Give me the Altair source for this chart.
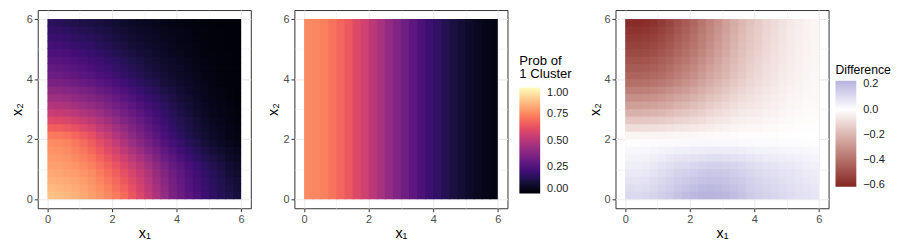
import altair as alt
import pandas as pd

# ---------------- data ----------------
# x1 / x2 cell centres (cells 0.25 wide) covering 0..6
GRID = [0.125, 0.375, 0.625, 0.875, 1.125, 1.375, 1.625, 1.875,
        2.125, 2.375, 2.625, 2.875, 3.125, 3.375, 3.625, 3.875,
        4.125, 4.375, 4.625, 4.875, 5.125, 5.375, 5.625, 5.875]
HALF = 0.125
X_MAX = 6.0
SEAM = 0.025  # tiny overlap between neighbouring cells so no hairline seams show

# panel 2: probability (%) of 1 cluster as a function of x1 only
P2 = [75.5, 75, 73.5, 71, 68, 64.5, 60, 56,
      51.5, 46.5, 41.5, 37, 32.5, 28, 24, 20.5,
      17.5, 14.5, 12, 9.5, 7.5, 6, 4.5, 3.5]

# panel 1: probability (%) of 1 cluster over (x1, x2); one row per x2 centre, bottom -> top
P1 = [
    [87.1, 86.2, 85.2, 83.8, 82.3, 80.3, 78.1, 75.5, 72.4, 68.9, 64, 59.1, 53.6, 47.7, 41.8, 35.9, 31.5, 27.5, 24.1, 20.6, 17.6, 15.1, 13.1, 11.1],
    [85.4, 84.6, 83.6, 82.3, 80.8, 78.8, 76.4, 73.5, 70.3, 66.6, 62, 57.2, 51.9, 46.1, 40.4, 34.8, 30.5, 26.5, 23.2, 19.7, 16.9, 14.4, 12.2, 10.4],
    [83.6, 82.9, 81.9, 80.8, 79.3, 77.3, 74.6, 71.5, 68.2, 64.4, 60, 55.3, 50.1, 44.4, 39.1, 33.7, 29.5, 25.5, 22.3, 18.8, 16.1, 13.6, 11.3, 9.6],
    [81.9, 81.3, 80.3, 79.3, 77.8, 75.8, 72.9, 69.5, 66.1, 62.1, 58, 53.4, 48.4, 42.8, 37.7, 32.6, 28.5, 24.5, 21.4, 17.9, 15.4, 12.9, 10.4, 8.9],
    [80.3, 79.8, 78.8, 77.6, 75.9, 73.7, 70.5, 66.9, 63.3, 59.2, 55.1, 50.6, 45.6, 40.3, 35.4, 30.6, 26.7, 22.8, 19.9, 16.5, 14.1, 11.7, 9.3, 7.9],
    [78.9, 78.4, 77.3, 75.7, 73.6, 71.1, 67.5, 63.8, 59.9, 55.6, 51.2, 46.7, 41.9, 36.8, 32.1, 27.7, 24.1, 20.4, 17.6, 14.5, 12.2, 10.1, 7.9, 6.6],
    [77.6, 77.1, 75.8, 73.8, 71.4, 68.4, 64.5, 60.7, 56.6, 51.9, 47.3, 42.8, 38.1, 33.3, 28.9, 24.8, 21.4, 18.1, 15.4, 12.5, 10.3, 8.4, 6.6, 5.4],
    [76.2, 75.7, 74.3, 71.9, 69.1, 65.8, 61.5, 57.6, 53.2, 48.3, 43.4, 38.9, 34.4, 29.8, 25.6, 21.9, 18.8, 15.7, 13.1, 10.5, 8.4, 6.8, 5.2, 4.1],
    [72.4, 71.9, 70.5, 68.1, 65.2, 61.9, 57.6, 53.8, 49.4, 44.7, 39.9, 35.6, 31.3, 27, 23.2, 19.8, 16.8, 13.9, 11.5, 9.1, 7.2, 5.8, 4.3, 3.3],
    [66.3, 65.8, 64.5, 62.2, 59.6, 56.6, 52.9, 49.3, 45.3, 41.1, 36.8, 32.9, 28.9, 25, 21.6, 18.3, 15.4, 12.8, 10.5, 8.4, 6.6, 5.3, 3.9, 2.9],
    [60.2, 59.7, 58.5, 56.3, 53.9, 51.4, 48.1, 44.8, 41.2, 37.4, 33.7, 30.1, 26.6, 23, 19.9, 16.8, 14.1, 11.7, 9.5, 7.6, 5.9, 4.8, 3.6, 2.6],
    [54.1, 53.6, 52.5, 50.4, 48.3, 46.1, 43.4, 40.3, 37.1, 33.8, 30.6, 27.4, 24.2, 21, 18.3, 15.3, 12.7, 10.6, 8.5, 6.9, 5.3, 4.3, 3.2, 2.2],
    [48.8, 48.3, 47.3, 45.3, 43.4, 41.4, 39, 36.2, 33.3, 30.4, 27.6, 24.7, 21.8, 19, 16.6, 13.8, 11.5, 9.6, 7.7, 6.2, 4.8, 3.8, 2.9, 1.9],
    [44.3, 43.8, 42.8, 40.9, 39.1, 37.3, 35, 32.6, 29.9, 27.3, 24.7, 22.1, 19.4, 17, 14.7, 12.4, 10.4, 8.7, 7, 5.6, 4.4, 3.4, 2.6, 1.7],
    [39.8, 39.3, 38.3, 36.6, 34.9, 33.2, 31, 28.9, 26.6, 24.2, 21.8, 19.4, 17.1, 15, 12.8, 11.1, 9.4, 7.8, 6.3, 5.1, 3.9, 3.1, 2.3, 1.6],
    [35.3, 34.8, 33.8, 32.2, 30.6, 29.1, 27, 25.3, 23.2, 21.1, 18.9, 16.8, 14.7, 13, 10.9, 9.7, 8.3, 6.9, 5.6, 4.5, 3.5, 2.7, 2, 1.4],
    [31.8, 31.3, 30.3, 28.8, 27.3, 25.9, 23.9, 22.4, 20.5, 18.6, 16.6, 14.8, 12.9, 11.4, 9.6, 8.6, 7.4, 6.2, 5, 4, 3.1, 2.4, 1.7, 1.3],
    [29.3, 28.8, 27.8, 26.3, 24.9, 23.6, 21.8, 20.3, 18.5, 16.7, 14.9, 13.3, 11.6, 10.3, 8.7, 7.7, 6.6, 5.6, 4.5, 3.6, 2.8, 2.2, 1.6, 1.2],
    [26.8, 26.3, 25.3, 23.8, 22.6, 21.4, 19.7, 18.2, 16.5, 14.8, 13.1, 11.8, 10.4, 9.2, 7.8, 6.8, 5.9, 4.9, 4, 3.1, 2.5, 1.9, 1.4, 1.1],
    [24.3, 23.8, 22.8, 21.3, 20.2, 19.1, 17.6, 16.1, 14.5, 12.9, 11.4, 10.3, 9.1, 8.1, 6.9, 5.9, 5.1, 4.3, 3.5, 2.7, 2.2, 1.7, 1.3, 1],
    [22, 21.5, 20.5, 19.1, 18.1, 17.1, 15.7, 14.3, 12.9, 11.4, 10, 9.1, 8.1, 7.2, 6.2, 5.3, 4.5, 3.8, 3.1, 2.4, 1.9, 1.6, 1.2, 1],
    [20, 19.5, 18.5, 17.2, 16.3, 15.4, 14.2, 12.9, 11.6, 10.3, 9.1, 8.2, 7.3, 6.5, 5.6, 4.8, 4.1, 3.5, 2.8, 2.2, 1.8, 1.5, 1.1, 1],
    [18, 17.5, 16.5, 15.3, 14.5, 13.6, 12.6, 11.6, 10.4, 9.2, 8.1, 7.3, 6.6, 5.8, 5.1, 4.4, 3.8, 3.2, 2.6, 2.1, 1.7, 1.4, 1.1, 1],
    [16, 15.5, 14.5, 13.4, 12.7, 11.9, 11.1, 10.2, 9.1, 8.1, 7.2, 6.4, 5.8, 5.1, 4.5, 3.9, 3.4, 2.9, 2.3, 1.9, 1.6, 1.2, 1, 1],
]

AXIS_TICKS = [0, 1, 2, 3, 4, 5, 6]
PROB_LEGEND_VALUES = [0, 0.25, 0.5, 0.75, 1.0]
DIFF_LEGEND_VALUES = [-0.6, -0.4, -0.2, 0.0, 0.2]
DIFF_DOMAIN = [-0.615, 0.0, 0.23]


# ---------------- tables ----------------
def hi(c):
    edge = c + HALF
    return edge + SEAM if edge < X_MAX else edge


rows1, rows3 = [], []
for i, yc in enumerate(GRID):
    for j, xc in enumerate(GRID):
        base = dict(x_lo=xc - HALF, x_hi=hi(xc), y_lo=yc - HALF, y_hi=hi(yc))
        rows1.append(dict(base, prob=P1[i][j] / 100))
        rows3.append(dict(base, diff=(P1[i][j] - P2[j]) / 100))   # Difference = panel 1 - panel 2
df1 = pd.DataFrame(rows1)
df3 = pd.DataFrame(rows3)
df2 = pd.DataFrame([dict(x_lo=xc - HALF, x_hi=hi(xc), y_lo=0.0, y_hi=X_MAX, prob=v / 100)
                    for xc, v in zip(GRID, P2)])

# ---------------- styling helpers ----------------
FONT = "Liberation Sans"
odd = "datum.value % 2 == 1"


def axis(title):
    return alt.Axis(
        values=AXIS_TICKS,
        labelExpr="datum.value % 2 == 0 ? datum.label : ''",
        title=title,
        domain=False,
        grid=True,
        gridColor="#EBEBEB",
        gridWidth={"condition": {"test": odd, "value": 0.55}, "value": 1.1},
        tickOpacity={"condition": {"test": odd, "value": 0}, "value": 1},
        tickColor="#333333",
        tickSize=3.5,
        tickWidth=1,
        labelPadding=2,
        labelFontSize=11,
        labelColor="#4D4D4D",
        labelFont=FONT,
        titleFont=FONT,
        titleFontSize=14.5,
        titleFontWeight="normal",
        titleColor="#000000",
        titlePadding=2,
    )


pos_scale = alt.Scale(domain=[-0.3, 6.3], nice=False, zero=False)
prob_scale = alt.Scale(scheme="magma", domain=[0, 1])
diff_scale = alt.Scale(domain=DIFF_DOMAIN, range=["#832424", "#FFFFFF", "#B5B2DD"], interpolate="lab")

W, H = 215, 200


def panel(df, field, scale, legend):
    return (
        alt.Chart(df)
        .mark_rect()
        .encode(
            x=alt.X("x_lo:Q", scale=pos_scale, axis=axis("x₁")),
            x2="x_hi:Q",
            y=alt.Y("y_lo:Q", scale=pos_scale, axis=axis("x₂")),
            y2="y_hi:Q",
            color=alt.Color(f"{field}:Q", scale=scale, legend=legend),
        )
        .properties(width=W, height=H)
    )


legend_common = dict(
    type="gradient",
    orient="none",
    direction="vertical",
    gradientLength=107,
    gradientThickness=21,
    gradientStrokeWidth=0,
    labelFontSize=11,
    labelFont=FONT,
    labelColor="#1A1A1A",
    titleFont=FONT,
    titleFontWeight="normal",
    titleColor="#000000",
    titleLineHeight=14,
    labelOffset=7,
)

c1 = panel(df1, "prob", prob_scale, None)
c2 = panel(df2, "prob", prob_scale, alt.Legend(
    title=["Prob of", "1 Cluster"], values=PROB_LEGEND_VALUES, format=".2f",
    legendX=227, legendY=45, titlePadding=6, titleFontSize=13.2, **legend_common))
c3 = panel(df3, "diff", diff_scale, alt.Legend(
    title="Difference", values=DIFF_LEGEND_VALUES, format=".1f",
    legendX=222, legendY=55, titlePadding=4, titleFontSize=12.3, **legend_common))

chart = (
    alt.hconcat(c1, c2, c3, spacing=13)
    .resolve_scale(color="independent")
    .configure(font=FONT, padding=0)
    .configure_view(stroke="#333333", strokeWidth=1)
)

chart.save("out.html", embed_options={"renderer": "svg", "actions": False})
